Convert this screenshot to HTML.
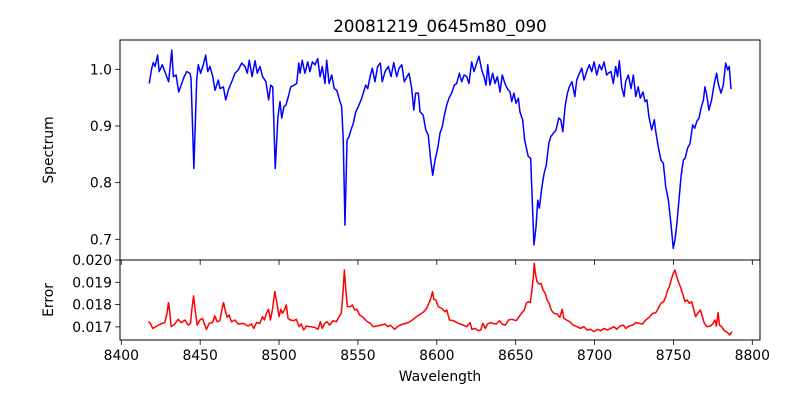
<!DOCTYPE html>
<html><head><meta charset="utf-8">
<style>
html,body{margin:0;padding:0;background:#fff;}
svg{display:block;font-family:"DejaVu Sans","Liberation Sans",sans-serif;}
</style></head>
<body>
<svg id="chart" width="800" height="400" viewBox="0 0 800 400" xmlns="http://www.w3.org/2000/svg">
<rect width="800" height="400" fill="#fff"/>
<text x="440" y="32" font-size="16.7" text-anchor="middle" fill="#000">20081219_0645m80_090</text>
<text transform="translate(53,150) rotate(-90)" font-size="13.9" text-anchor="middle" fill="#000">Spectrum</text>
<text transform="translate(53,300) rotate(-90)" font-size="13.9" text-anchor="middle" fill="#000">Error</text>
<text x="440" y="381" font-size="13.9" text-anchor="middle" fill="#000">Wavelength</text>
<g id="topPanel"></g>
<g id="botPanel"></g>
</svg>
<script>
const specWl=[8417.7,8419.3,8420.3,8421.4,8423,8424,8426,8428.8,8430,8432,8433,8434.7,8436.4,8438.3,8439.7,8441.5,8443.5,8444.2,8446,8447.8,8448.8,8450.3,8452,8453.5,8454.8,8456.2,8458,8459.4,8461.5,8462.6,8464.7,8466.2,8467.8,8470,8472.1,8474.2,8476.3,8478.4,8479.9,8481.1,8482.9,8484.8,8486.2,8487.9,8489.6,8491.7,8493.4,8494.7,8496,8497.6,8499.3,8500.6,8501.7,8503.1,8504.4,8505.9,8507.4,8509.5,8511.2,8512.5,8513.3,8514.7,8516.4,8518.2,8519.6,8521.1,8522.8,8524.5,8526,8527.4,8529.1,8530.2,8531.7,8533.4,8535,8536.6,8538,8539.7,8540.7,8541.8,8543.1,8544.3,8545.6,8547.1,8548.6,8550.2,8552,8553.4,8554.9,8556.2,8557.7,8559.1,8560.8,8562.5,8564.2,8565.4,8567.2,8569.3,8571,8572.7,8574.6,8576.1,8577.8,8579.4,8581.1,8582.4,8584.1,8585.4,8586.6,8588.3,8589.4,8591.4,8593,8594.6,8595.9,8597.4,8598.9,8600.6,8602,8603.5,8604.8,8606.3,8607.7,8609.4,8611.1,8612.6,8614.3,8615.8,8617.3,8619,8620.4,8622.1,8623.6,8625.3,8626.7,8628.5,8629.9,8631.2,8632.3,8633.7,8635.4,8636.9,8638.4,8640.1,8641.5,8643.2,8644.7,8646.4,8647.5,8648.9,8650.2,8651.7,8652.7,8654.4,8655.7,8657,8658,8659.5,8660.5,8661.6,8662.9,8664,8665,8666.5,8668,8669.4,8671,8672.2,8673.9,8675.6,8677.3,8678.6,8679.9,8681.3,8682.8,8684,8685.7,8687.5,8688.7,8690.4,8691.9,8693.3,8695,8696.7,8698.2,8699.7,8701.4,8703,8704.5,8706,8707.7,8708.7,8710.4,8711.9,8713.4,8714.6,8715.7,8717.2,8718.7,8719.7,8721.4,8723.1,8724.6,8726.1,8727.7,8729,8730.7,8732,8733.2,8734.5,8736.2,8737.9,8738.8,8740.4,8742.1,8743.6,8745.1,8746.8,8748.3,8749.9,8751,8752.3,8753.5,8754.8,8756.3,8757.4,8759,8760.5,8762.2,8763.5,8764.8,8766.2,8767.5,8769,8770,8771.1,8772.5,8774.2,8775.9,8777.4,8778.4,8780.1,8781.6,8783.1,8784.4,8785.4,8786.5];
const specVal=[0.975,1.002,1.012,1.005,1.025,0.996,1.008,0.987,0.978,1.034,0.987,0.990,0.960,0.975,0.986,0.996,0.993,0.984,0.825,0.981,1.008,0.993,1.008,1.025,0.996,1.005,0.987,0.963,0.981,0.966,0.969,0.946,0.963,0.978,0.993,0.999,1.011,1.005,0.993,1.016,0.987,1.015,0.993,1.005,0.987,0.978,0.946,0.972,0.969,0.825,0.916,0.943,0.914,0.934,0.937,0.952,0.969,0.972,0.975,1.011,0.993,1.016,0.993,1.013,0.996,1.013,1.008,1.019,0.987,1.005,0.975,1.016,0.975,0.990,0.966,0.963,0.949,0.934,0.875,0.725,0.875,0.881,0.893,0.905,0.925,0.934,0.946,0.958,0.972,0.966,0.987,1.002,0.978,1.005,1.011,0.978,0.996,1.005,0.987,1.012,0.987,1.002,1.008,0.978,0.987,0.993,0.966,0.928,0.958,0.958,0.925,0.919,0.893,0.884,0.846,0.813,0.840,0.861,0.887,0.899,0.919,0.937,0.949,0.958,0.972,0.975,0.993,0.978,0.990,0.987,0.975,1.013,0.996,1.011,1.023,0.999,0.987,0.972,1.008,0.972,0.993,0.975,0.987,0.960,0.990,0.975,0.966,0.960,0.943,0.958,0.940,0.949,0.925,0.911,0.875,0.858,0.846,0.843,0.769,0.690,0.722,0.769,0.755,0.790,0.816,0.831,0.869,0.881,0.887,0.893,0.914,0.911,0.890,0.934,0.958,0.969,0.978,0.952,0.981,0.993,1.002,0.981,0.996,1.008,0.996,1.013,0.990,1.008,0.999,1.013,0.990,0.993,0.996,0.975,1.005,0.987,1.015,0.969,0.952,0.978,0.990,0.966,0.990,0.952,0.969,0.949,0.960,0.943,0.946,0.916,0.893,0.911,0.890,0.863,0.840,0.834,0.793,0.769,0.731,0.684,0.699,0.731,0.769,0.810,0.840,0.843,0.861,0.869,0.902,0.896,0.908,0.914,0.931,0.946,0.969,0.955,0.928,0.946,0.975,0.993,0.975,0.958,0.972,1.011,0.999,1.005,0.965];
const errWl=[8417.1,8418.2,8419.9,8422.5,8425,8427.5,8429,8429.9,8430.7,8431.6,8433.9,8436,8438.2,8440.3,8442.4,8443.9,8444.7,8445.8,8446.8,8448.1,8449.8,8451.5,8452.5,8454,8455.7,8457.8,8459.3,8460.8,8462.5,8463.7,8464.8,8465.8,8467.1,8468.4,8469.8,8472,8474.1,8477.2,8480.4,8482.5,8484,8485.7,8487.8,8489.5,8490.7,8492,8493.3,8494.5,8495.8,8497.3,8498.5,8500,8501.1,8502.1,8503.4,8504.6,8505.7,8507.2,8509.3,8511,8512.7,8514.1,8515.6,8517.3,8519.8,8522.6,8524.7,8526.2,8527.4,8528.9,8530.4,8532.1,8534.2,8536.3,8538,8539.5,8540.5,8541.4,8542.2,8543.3,8545.2,8546.5,8547.9,8549.4,8551.1,8552.8,8554.5,8556,8557.9,8559.6,8562.1,8564.8,8567,8569.1,8570.6,8573.3,8575.5,8578.6,8581.8,8584.6,8587.1,8589.7,8591.8,8593.5,8595.2,8596.2,8597.3,8598.1,8599.4,8600.9,8603.1,8605.2,8606.3,8608,8610.5,8613.7,8616.9,8619,8621.1,8622.2,8624.3,8626.4,8627.9,8629.2,8630.7,8632.2,8633.9,8635.6,8637.7,8639.8,8641.3,8643.4,8645.5,8647.6,8650.4,8652.5,8654,8655.5,8656.7,8658,8659.3,8660.3,8661.2,8661.8,8662.5,8663.5,8664.8,8666.1,8667.4,8668.8,8669.9,8671.2,8672.5,8674.2,8676.3,8678,8679.5,8680.5,8682.2,8684.3,8686.4,8689,8691.1,8693.2,8695.3,8697.5,8699.6,8701.7,8703.8,8706,8708.1,8710.2,8712.3,8714,8716.2,8718.3,8719.8,8721.9,8724,8726.2,8728.3,8730.4,8732.5,8734.6,8736.8,8738.9,8740.4,8742.1,8743.8,8745.2,8746.3,8747.4,8748.9,8749.9,8751,8751.8,8753.1,8754.4,8755.8,8757.3,8758.6,8760.1,8761.6,8762.8,8764.1,8765.4,8767.1,8768.3,8769.6,8771.3,8773.4,8774.9,8776.4,8777.2,8778.3,8779.2,8780.6,8782.3,8784.4,8785.7,8787];
const errVal=[0.01723,0.01719,0.01693,0.01704,0.01713,0.01719,0.01761,0.01809,0.01768,0.01701,0.01713,0.01734,0.01719,0.01731,0.01708,0.01716,0.01776,0.01839,0.01776,0.01708,0.01731,0.01738,0.01716,0.01689,0.01716,0.01719,0.01749,0.01723,0.01728,0.01776,0.01809,0.01776,0.01743,0.01753,0.01723,0.01731,0.01713,0.01716,0.01704,0.01713,0.01693,0.01719,0.01716,0.01746,0.01731,0.01761,0.01779,0.01731,0.01776,0.01858,0.01813,0.01746,0.01779,0.01761,0.01776,0.01798,0.01738,0.01731,0.01728,0.01734,0.01701,0.01713,0.01686,0.01704,0.01701,0.01698,0.01689,0.01723,0.01693,0.01716,0.01723,0.01708,0.01728,0.01723,0.01746,0.01761,0.01850,0.01955,0.01880,0.01791,0.01791,0.01798,0.01776,0.01779,0.01753,0.01746,0.01734,0.01723,0.01716,0.01701,0.01704,0.01708,0.01713,0.01701,0.01708,0.01689,0.01704,0.01713,0.01719,0.01731,0.01746,0.01758,0.01768,0.01783,0.01809,0.01828,0.01858,0.01824,0.01821,0.01791,0.01783,0.01768,0.01776,0.01731,0.01728,0.01716,0.01708,0.01701,0.01719,0.01689,0.01693,0.01683,0.01686,0.01716,0.01693,0.01713,0.01719,0.01716,0.01713,0.01728,0.01713,0.01708,0.01731,0.01734,0.01728,0.01749,0.01764,0.01776,0.01806,0.01813,0.01809,0.01865,0.01925,0.01985,0.01940,0.01903,0.01892,0.01895,0.01865,0.01850,0.01821,0.01806,0.01776,0.01761,0.01758,0.01743,0.01779,0.01738,0.01731,0.01723,0.01708,0.01701,0.01693,0.01701,0.01686,0.01689,0.01679,0.01689,0.01683,0.01693,0.01686,0.01693,0.01701,0.01689,0.01704,0.01708,0.01693,0.01704,0.01708,0.01719,0.01716,0.01713,0.01731,0.01743,0.01761,0.01764,0.01783,0.01806,0.01813,0.01836,0.01865,0.01880,0.01918,0.01940,0.01955,0.01933,0.01903,0.01880,0.01850,0.01813,0.01821,0.01806,0.01813,0.01779,0.01746,0.01761,0.01776,0.01746,0.01716,0.01701,0.01704,0.01713,0.01731,0.01704,0.01764,0.01708,0.01701,0.01683,0.01674,0.01664,0.01679];
const xTicks=[8400,8450,8500,8550,8600,8650,8700,8750,8800];
const specTicks=[0.7,0.8,0.9,1.0];
const specTickLabels=["0.7","0.8","0.9","1.0"];
const errTicks=[0.017,0.018,0.019,0.020];
const errTickLabels=["0.017","0.018","0.019","0.020"];

const NS="http://www.w3.org/2000/svg";
const L=120,R=760,T1=40,B1=260,T2=260,B2=340;
const xs=v=>121.3+(v-8400)*1.5775;
const ys1=v=>69.3+(1.0-v)*566.7;
const ys2=v=>260+(0.020-v)*22300;
function mk(tag,attrs,parent){const e=document.createElementNS(NS,tag);for(const k in attrs)e.setAttribute(k,attrs[k]);parent.appendChild(e);return e;}
const topG=document.getElementById('topPanel'),botG=document.getElementById('botPanel');

function pathD(wl,val,ys){const n=Math.min(wl.length,val.length);let d='';for(let i=0;i<n;i++){d+=(i?'L':'M')+xs(wl[i]).toFixed(2)+','+ys(val[i]).toFixed(2);}return d;}

const p1=mk('path',{d:pathD(specWl,specVal,ys1),fill:'none',stroke:'#0000ff','stroke-width':1.5,'stroke-linejoin':'round'},topG);


const p2=mk('path',{d:pathD(errWl,errVal,ys2),fill:'none',stroke:'#ff0000','stroke-width':1.5,'stroke-linejoin':'round'},botG);



const f1=mk('rect',{x:L,y:T1,width:R-L,height:B1-T1,fill:'none',stroke:'#000','stroke-width':1},topG);


const f2=mk('rect',{x:L,y:T2,width:R-L,height:B2-T2,fill:'none',stroke:'#000','stroke-width':1},botG);



specTicks.forEach((v,i)=>{const y=ys1(v);
 const t=mk('line',{x1:L-4.9,x2:L,y1:y,y2:y,stroke:'#000','stroke-width':0.8},topG);
 
 
 const tx=mk('text',{x:L-8,y:y+5,'font-size':13.9,'text-anchor':'end'},topG);tx.textContent=specTickLabels[i];
 
 
});
errTicks.forEach((v,i)=>{const y=ys2(v);
 const t=mk('line',{x1:L-4.9,x2:L,y1:y,y2:y,stroke:'#000','stroke-width':0.8},botG);
 
 
 const tx=mk('text',{x:L-8,y:y+5,'font-size':13.9,'text-anchor':'end'},botG);tx.textContent=errTickLabels[i];
 
 
});
xTicks.forEach(v=>{const x=xs(v);
 const t=mk('line',{x1:x,x2:x,y1:B1,y2:B1+4.9,stroke:'#000','stroke-width':0.8},topG);
 
 
 const t2=mk('line',{x1:x,x2:x,y1:B2,y2:B2+4.9,stroke:'#000','stroke-width':0.8},botG);
 
 
 const tx=mk('text',{x:x,y:B2+20,'font-size':13.9,'text-anchor':'middle'},botG);tx.textContent=String(v);
 
 
});
</script>
</body></html>
